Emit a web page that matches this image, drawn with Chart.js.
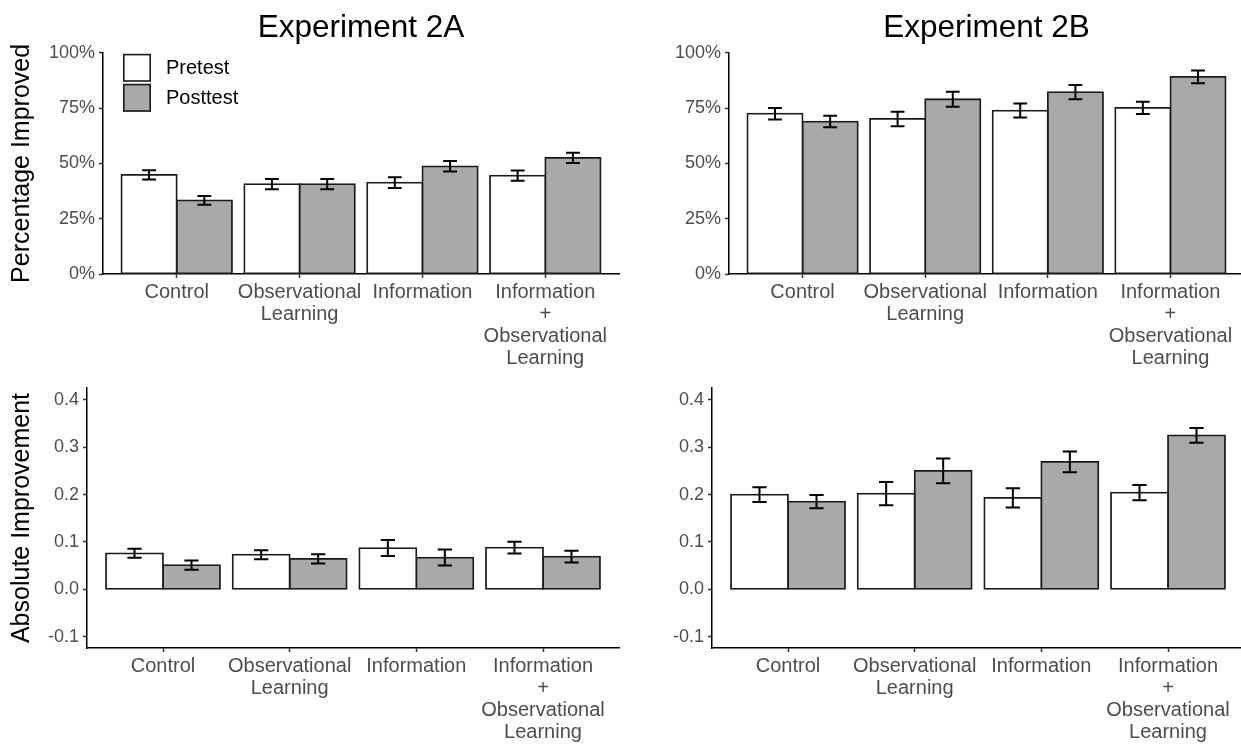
<!DOCTYPE html>
<html>
<head>
<meta charset="utf-8">
<script src="https://cdn.jsdelivr.net/npm/chart.js@4.4.1/dist/chart.umd.min.js"></script>
<style>
  html, body { margin: 0; padding: 0; background: #fff; overflow: hidden; }
  #fig { position: relative; width: 1241px; height: 745px; overflow: hidden; background: #fff; }
  #fig canvas { position: absolute; }
</style>
</head>
<body>
<div id="fig">
  <canvas id="pctA" width="625" height="380" style="left:0px;top:0px"></canvas>
  <canvas id="pctB" width="625" height="380" style="left:625px;top:0px"></canvas>
  <canvas id="absA" width="625" height="375" style="left:0px;top:370px"></canvas>
  <canvas id="absB" width="625" height="375" style="left:625px;top:370px"></canvas>
</div>
<script>
// Conditions on the x axis (multi-line labels)
const categories = [
  'Control',
  ['Observational', 'Learning'],
  'Information',
  ['Information', '+', 'Observational', 'Learning']
];
const seriesNames = ['Pretest', 'Posttest'];

// Experiment 2A – percentage of participants improved (mean, standard error)
const pctA_pre      = [0.448, 0.406, 0.413, 0.445];
const pctA_pre_se   = [0.021, 0.023, 0.024, 0.023];
const pctA_post     = [0.333, 0.406, 0.487, 0.525];
const pctA_post_se  = [0.020, 0.023, 0.024, 0.023];

// Experiment 2B – percentage of participants improved
const pctB_pre      = [0.725, 0.701, 0.739, 0.751];
const pctB_pre_se   = [0.026, 0.033, 0.032, 0.028];
const pctB_post     = [0.689, 0.790, 0.822, 0.891];
const pctB_post_se  = [0.026, 0.034, 0.032, 0.029];

// Experiment 2A – absolute improvement
const absA_pre      = [0.076, 0.073, 0.087, 0.088];
const absA_pre_se   = [0.0095, 0.0095, 0.017, 0.0125];
const absA_post     = [0.051, 0.064, 0.067, 0.069];
const absA_post_se  = [0.0098, 0.0098, 0.017, 0.0123];

// Experiment 2B – absolute improvement
const absB_pre      = [0.200, 0.202, 0.193, 0.204];
const absB_pre_se   = [0.0155, 0.0245, 0.0205, 0.016];
const absB_post     = [0.185, 0.250, 0.269, 0.325];
const absB_post_se  = [0.014, 0.026, 0.022, 0.0155];

// Axis tick values
const pctTicks = [0, 0.25, 0.5, 0.75, 1];
const absTicks = [-0.1, 0, 0.1, 0.2, 0.3, 0.4];

const FONT = '"Liberation Sans", Arial, Helvetica, sans-serif';
Chart.defaults.font.family = FONT;
Chart.defaults.color = '#4d4d4d';

const fills = ['#ffffff', '#a9a9a9'];
const INK = '#1a1a1a';
const EDGE = 1.8;

// Mean ± SE whiskers, positioned from each bar element and the value scale
const errorBars = {
  id: 'errorBars',
  afterDatasetsDraw(chart) {
    const { ctx } = chart;
    const ys = chart.scales.y;
    ctx.save();
    ctx.strokeStyle = '#000';
    ctx.lineWidth = 2;
    chart.data.datasets.forEach((ds, di) => {
      const meta = chart.getDatasetMeta(di);
      meta.data.forEach((bar, i) => {
        const v = ds.data[i].y;
        const e = ds.errors[i];
        const hi = ys.getPixelForValue(v + e);
        const lo = ys.getPixelForValue(v - e);
        const cap = bar.width * 0.125;
        ctx.beginPath();
        ctx.moveTo(bar.x, hi); ctx.lineTo(bar.x, lo);
        ctx.moveTo(bar.x - cap, hi); ctx.lineTo(bar.x + cap, hi);
        ctx.moveTo(bar.x - cap, lo); ctx.lineTo(bar.x + cap, lo);
        ctx.stroke();
      });
    });
    ctx.restore();
  }
};

// Fill key drawn inside the upper-left corner of the plotting area
const swatchKey = {
  id: 'swatchKey',
  afterDraw(chart, args, opts) {
    if (!opts.show) return;
    const { ctx, chartArea } = chart;
    const size = 28, gap = 2;
    let x = chartArea.left + 20, y = chartArea.top + 1;
    ctx.save();
    chart.data.datasets.forEach((ds) => {
      ctx.fillStyle = ds.backgroundColor;
      ctx.fillRect(x, y, size, size);
      ctx.strokeStyle = INK;
      ctx.lineWidth = 1.6;
      ctx.strokeRect(x + 0.8, y + 0.8, size - 1.6, size - 1.6);
      ctx.fillStyle = '#000';
      ctx.font = '20px ' + FONT;
      ctx.textBaseline = 'middle';
      ctx.textAlign = 'left';
      ctx.fillText(ds.label, x + 43, y + size / 2 + 1);
      y += size + gap;
    });
    ctx.restore();
  }
};

function panel(id, o) {
  const mk = (vals) => vals.map((v, i) => ({ x: i, y: v }));
  const datasets = [
    { label: seriesNames[0], data: mk(o.pre), errors: o.preSE },
    { label: seriesNames[1], data: mk(o.post), errors: o.postSE }
  ].map((d, k) => Object.assign(d, {
    backgroundColor: fills[k],
    borderColor: INK,
    borderWidth: EDGE,
    borderSkipped: false,
    inflateAmount: EDGE / 2,
    categoryPercentage: 0.9,
    barPercentage: 1.0
  }));

  return new Chart(document.getElementById(id), {
    type: 'bar',
    data: { datasets },
    plugins: [errorBars, swatchKey],
    options: {
      responsive: false,
      animation: false,
      devicePixelRatio: 1,
      layout: { padding: o.padding },
      plugins: {
        legend: { display: false },
        tooltip: { enabled: false },
        title: o.title ? {
          display: true, text: o.title, fullSize: false, color: '#000',
          font: { size: 31.5, weight: 'normal' }, padding: { top: 9, bottom: 6 }
        } : { display: false },
        swatchKey: { show: !!o.key }
      },
      scales: {
        x: {
          type: 'linear',
          min: -0.6, max: 3.6,
          offset: false,
          afterBuildTicks: (s) => { s.ticks = categories.map((c, i) => ({ value: i })); },
          afterFit: (s) => { s.height = o.xHeight; },
          ticks: {
            autoSkip: false, maxRotation: 0, minRotation: 0,
            color: '#4d4d4d', padding: 3,
            font: { size: 20, lineHeight: 1.1 },
            callback: (v) => categories[v]
          },
          grid: { display: true, offset: false, drawOnChartArea: false, drawTicks: true,
                  tickLength: 4, tickWidth: 1.5, tickColor: '#333' },
          border: { display: true, color: '#000', width: 1.5 }
        },
        y: {
          type: 'linear',
          min: o.yMin, max: o.yMax,
          afterBuildTicks: (s) => { s.ticks = o.yTicks.map((v) => ({ value: v })); },
          afterFit: (s) => { s.width = o.yWidth; },
          ticks: {
            color: '#4d4d4d', padding: 4,
            font: { size: 18 },
            callback: o.fmt
          },
          grid: { display: true, drawOnChartArea: false, drawTicks: true,
                  tickLength: 4, tickWidth: 1.5, tickColor: '#333' },
          border: { display: true, color: '#000', width: 1.5 },
          title: o.yTitle ? {
            display: true, text: o.yTitle, color: '#000',
            font: { size: 25 }, padding: { top: 7, bottom: 0 }
          } : { display: false }
        }
      }
    }
  });
}

const pctFmt = (v) => Math.round(v * 100) + '%';
const absFmt = (v) => v.toFixed(1);

panel('pctA', {
  pre: pctA_pre, preSE: pctA_pre_se, post: pctA_post, postSE: pctA_post_se,
  yMin: 0, yMax: 1, yTicks: pctTicks, fmt: pctFmt,
  yWidth: 103, xHeight: 106, padding: { top: 0, right: 6, bottom: 0, left: 0 },
  title: 'Experiment 2A', yTitle: 'Percentage Improved', key: true
});
panel('pctB', {
  pre: pctB_pre, preSE: pctB_pre_se, post: pctB_post, postSE: pctB_post_se,
  yMin: 0, yMax: 1, yTicks: pctTicks, fmt: pctFmt,
  yWidth: 104, xHeight: 106, padding: { top: 0, right: 6, bottom: 0, left: 0 },
  title: 'Experiment 2B'
});
panel('absA', {
  pre: absA_pre, preSE: absA_pre_se, post: absA_post, postSE: absA_post_se,
  yMin: -0.124, yMax: 0.425, yTicks: absTicks, fmt: absFmt,
  yWidth: 87, xHeight: 97, padding: { top: 18, right: 6, bottom: 0, left: 0 },
  yTitle: 'Absolute Improvement'
});
panel('absB', {
  pre: absB_pre, preSE: absB_pre_se, post: absB_post, postSE: absB_post_se,
  yMin: -0.124, yMax: 0.425, yTicks: absTicks, fmt: absFmt,
  yWidth: 87, xHeight: 97, padding: { top: 18, right: 6, bottom: 0, left: 0 }
});
</script>
</body>
</html>
